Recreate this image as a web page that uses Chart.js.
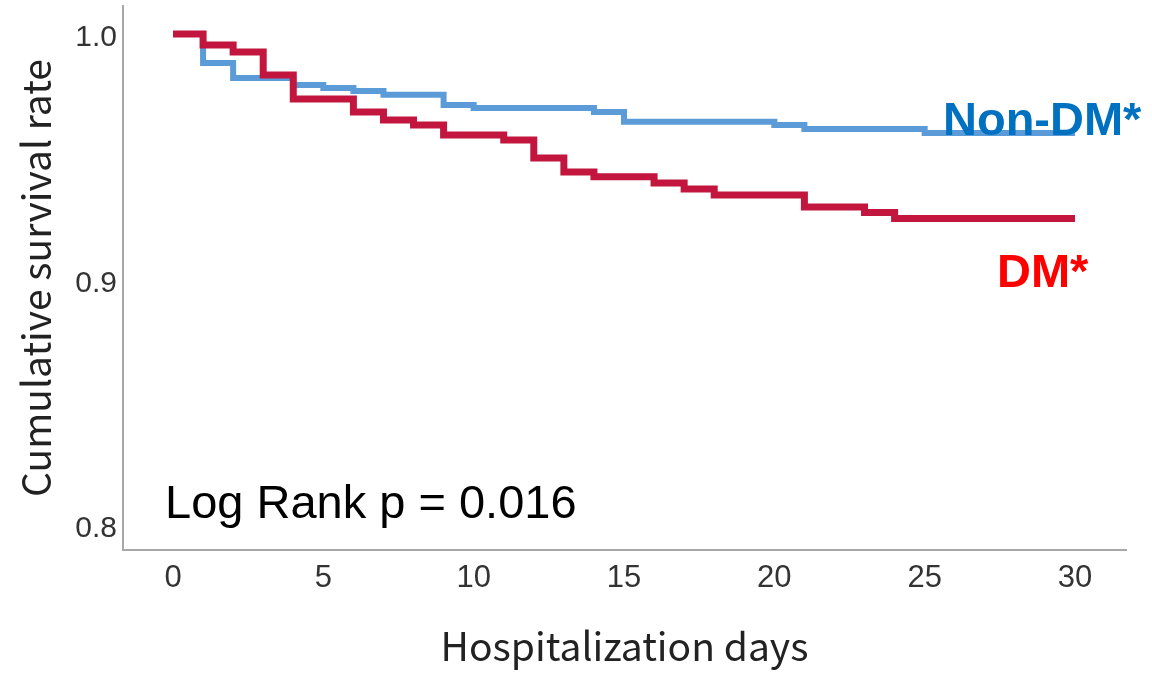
<!DOCTYPE html>
<html>
<head>
<meta charset="utf-8">
<script src="https://cdn.jsdelivr.net/npm/chart.js@4/dist/chart.umd.min.js"></script>
<style>
  body { margin: 0; background: #fff; }
  #wrap { width: 1152px; height: 675px; }
</style>
</head>
<body>
<div id="wrap"><canvas id="kmChart" width="1152" height="675"></canvas></div>
<script>
// Kaplan-Meier steps (day, survival after that day)
const dmDays = [0, 1, 2, 3, 4, 6, 7, 8, 9, 11, 12, 13, 14, 16, 17, 18, 21, 23, 24, 30];
const dmRates = [1.0, 0.9955, 0.9927, 0.9833, 0.9735, 0.9682, 0.965, 0.9629, 0.9589, 0.9568,
  0.9495, 0.9438, 0.9418, 0.9393, 0.9369, 0.9344, 0.9295, 0.9273, 0.9248, 0.9248];

const nonDmDays = [0, 1, 2, 4, 5, 6, 7, 9, 10, 14, 15, 20, 21, 25, 30];
const nonDmRates = [1.0, 0.9882, 0.9821, 0.9792, 0.978, 0.9768, 0.9752, 0.9711, 0.9699,
  0.9682, 0.9642, 0.9629, 0.9613, 0.9597, 0.9597];

const xTicks = [0, 5, 10, 15, 20, 25, 30];
const yTicks = [0.8, 0.9, 1.0];

const seriesLabels = ["DM*", "Non-DM*"];
const pValueText = "Log Rank p = 0.016";

function toPoints(days, rates) {
  return days.map((d, i) => ({ x: d, y: rates[i] }));
}

// Text labels placed inside the plot
const labelPlugin = {
  id: "kmLabels",
  afterDatasetsDraw(chart) {
    const ctx = chart.ctx;
    ctx.save();
    ctx.textBaseline = "alphabetic";
    ctx.textAlign = "left";
    ctx.font = "bold 47px 'Liberation Sans', Arial, sans-serif";
    ctx.fillStyle = "#0070C0";
    ctx.fillText(seriesLabels[1], 943, 135);
    ctx.fillStyle = "#FF0000";
    ctx.fillText(seriesLabels[0], 997, 287);
    ctx.font = "47px 'Liberation Sans', Arial, sans-serif";
    ctx.fillStyle = "#000";
    ctx.fillText(pValueText, 165, 518);
    ctx.restore();
  },
};

const kmCtx = document.getElementById("kmChart").getContext("2d");
new Chart(kmCtx, {
  type: "line",
  data: {
    datasets: [
      {
        label: seriesLabels[0],
        data: toPoints(dmDays, dmRates),
        stepped: "before",
        borderColor: "#C2163F",
        borderWidth: 7,
        borderCapStyle: "butt",
        pointRadius: 0,
        fill: false,
      },
      {
        label: seriesLabels[1],
        data: toPoints(nonDmDays, nonDmRates),
        stepped: "before",
        borderColor: "#5B9BD8",
        borderWidth: 6,
        borderCapStyle: "butt",
        pointRadius: 0,
        fill: false,
      },
    ],
  },
  options: {
    responsive: false,
    animation: false,
    layout: { padding: { top: 6, right: 26, left: 0, bottom: 0 } },
    plugins: {
      legend: { display: false },
      title: { display: false },
      tooltip: { enabled: false },
    },
    scales: {
      x: {
        type: "linear",
        min: -1.663,
        max: 31.696,
        afterBuildTicks: (scale) => {
          scale.ticks = xTicks.map((v) => ({ value: v }));
        },
        afterFit: (scale) => {
          scale.height = 125;
          scale.paddingLeft = 0;
          scale.paddingRight = 0;
        },
        grid: { display: true, color: "rgba(0,0,0,0)", drawTicks: false },
        border: { display: true, color: "#a8a8a8", width: 2 },
        ticks: {
          padding: 10,
          color: "#333",
          font: { family: "'Liberation Sans', Arial, sans-serif", size: 31 },
        },
        title: {
          display: true,
          text: "Hospitalization days",
          color: "#222",
          padding: { top: 0, bottom: 5 },
          font: { family: "'Noto Sans CJK JP', 'Noto Sans', sans-serif", size: 39 },
        },
      },
      y: {
        type: "linear",
        min: 0.7898,
        max: 1.0114,
        afterBuildTicks: (scale) => {
          scale.ticks = yTicks.map((v) => ({ value: v }));
        },
        afterFit: (scale) => {
          scale.width = 123;
          scale.paddingTop = 0;
          scale.paddingBottom = 0;
        },
        grid: { display: true, color: "rgba(0,0,0,0)", drawTicks: false },
        border: { display: true, color: "#a8a8a8", width: 2 },
        ticks: {
          padding: 6,
          labelOffset: 4,
          color: "#333",
          font: { family: "'Liberation Sans', Arial, sans-serif", size: 30 },
          callback: (v) => Number(v).toFixed(1),
        },
        title: {
          display: true,
          text: "Cumulative survival rate",
          color: "#222",
          padding: { top: 13, bottom: 0 },
          font: { family: "'Noto Sans CJK JP', 'Noto Sans', sans-serif", size: 39 },
        },
      },
    },
  },
  plugins: [labelPlugin],
});
</script>
</body>
</html>
